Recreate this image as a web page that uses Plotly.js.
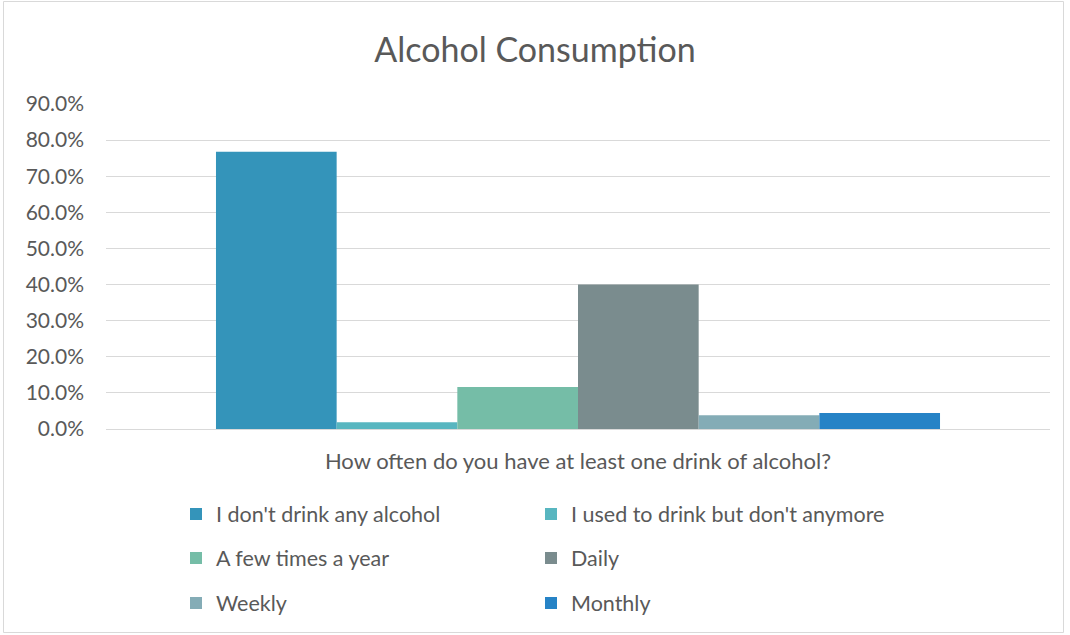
<!DOCTYPE html>
<html>
<head>
<meta charset="utf-8">
<script src="https://cdn.plot.ly/plotly-3.0.1.min.js"></script>
<style>html,body{margin:0;padding:0;background:#fff;}#chart{width:1070px;height:635px;}</style>
</head>
<body>
<div id="chart"></div>
<script>
const categories = ["How often do you have at least one drink of alcohol?"];
const seriesNames = ["I don't drink any alcohol", "I used to drink but don't anymore", "A few times a year", "Daily", "Weekly", "Monthly"];
const seriesValues = [0.768, 0.019, 0.116, 0.400, 0.038, 0.044];
const seriesColors = ["#3494BA", "#58B6C0", "#75BDA7", "#7A8C8E", "#84ACB6", "#2683C6"];
const legendRows = ["legend", "legend", "legend2", "legend2", "legend3", "legend3"];
const yTickVals = [0, 0.1, 0.2, 0.3, 0.4, 0.5, 0.6, 0.7, 0.8, 0.9];

const FONT = "Lato, 'Open Sans', sans-serif";
const TXT = "#595959";

const traces = seriesNames.map((name, i) => ({
  type: "bar",
  name: name,
  x: categories,
  y: [seriesValues[i]],
  marker: {color: seriesColors[i], line: {width: 0}},
  legend: legendRows[i],
  hoverinfo: "name+y"
}));

const W = 1070, H = 635;
const L = 106, R = 20, T = 104, B = 206;
const plotW = W - L - R, plotH = H - T - B;
function px2x(px){ return (px - L) / plotW; }
function py2y(py){ return (H - B - py) / plotH; }

const legendBase = {
  orientation: "h",
  x: px2x(176), xanchor: "left",
  yanchor: "middle",
  font: {family: FONT, size: 21.5, color: TXT},
  entrywidth: 310, entrywidthmode: "pixels",
  bgcolor: "rgba(0,0,0,0)",
  traceorder: "normal"
};

const layout = {
  width: W, height: H,
  margin: {l: L, r: R, t: T, b: B, pad: 0},
  paper_bgcolor: "#ffffff",
  plot_bgcolor: "#ffffff",
  font: {family: FONT, color: TXT},
  title: {text: "Alcohol Consumption", font: {family: FONT, size: 34, color: TXT}, x: 0.5, xanchor: "center", y: 1 - 50/H, yanchor: "middle"},
  barmode: "group",
  bargap: 0.233,
  bargroupgap: 0,
  xaxis: {
    showticklabels: false, ticks: "", showgrid: false, showline: false, zeroline: false,
    title: {text: categories[0], font: {family: FONT, size: 22, color: TXT}, standoff: 24}
  },
  yaxis: {
    range: [0, 0.9], tickvals: yTickVals, tickformat: ".1%",
    showgrid: true, gridcolor: "#D9D9D9", gridwidth: 1,
    zeroline: true, zerolinecolor: "#D9D9D9", zerolinewidth: 1,
    showline: false, ticks: "", ticklen: 0, automargin: false,
    ticklabelstandoff: 21,
    tickfont: {family: FONT, size: 21, color: TXT}
  },
  legend: Object.assign({}, legendBase, {y: py2y(514)}),
  legend2: Object.assign({}, legendBase, {y: py2y(558)}),
  legend3: Object.assign({}, legendBase, {y: py2y(603)}),
  shapes: [{
    type: "rect", xref: "paper", yref: "paper",
    x0: px2x(3.5), x1: px2x(1063.5), y0: py2y(632.5), y1: py2y(1.5),
    line: {color: "#D9D9D9", width: 1}, fillcolor: "rgba(0,0,0,0)", layer: "below"
  }]
};

Plotly.newPlot("chart", traces, layout, {displayModeBar: false, staticPlot: true});
</script>
</body>
</html>
